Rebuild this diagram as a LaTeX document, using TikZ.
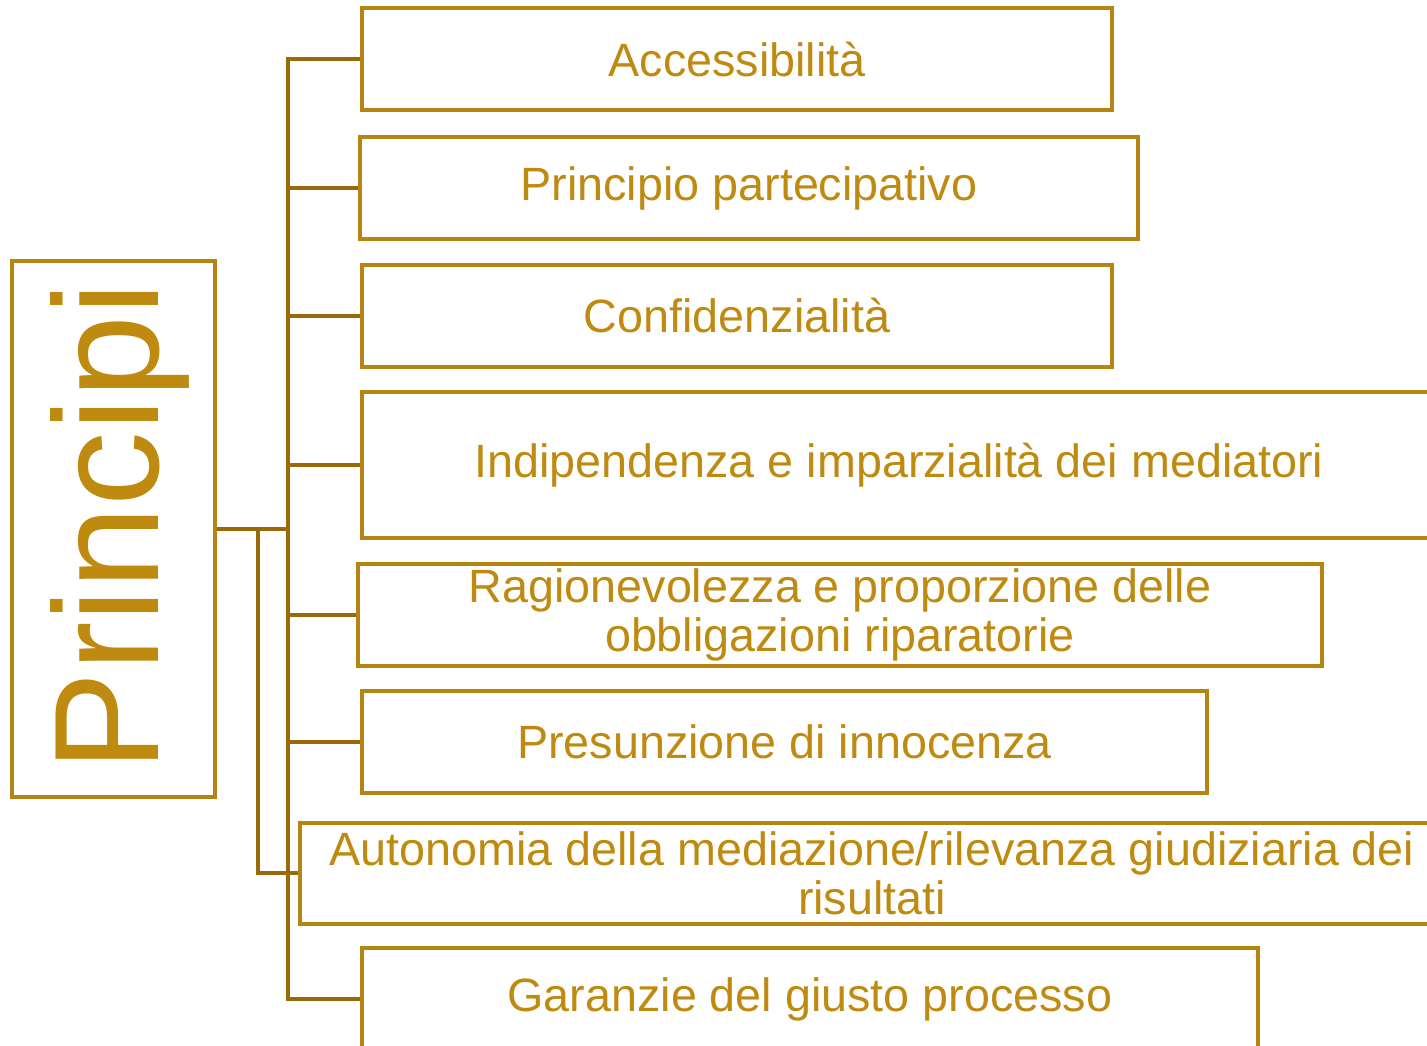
\documentclass[tikz,border=0pt]{standalone}
\usepackage{fontspec}
\setmainfont{Liberation Sans}
\usetikzlibrary{positioning}
\definecolor{ochre}{HTML}{B58412}
\definecolor{ochretext}{HTML}{BF8A10}
\definecolor{ochreline}{HTML}{9A6A08}

\begin{document}
\begin{tikzpicture}[x=1pt, y=-1pt,
    leafbox/.style={draw=ochre, line width=4pt, rectangle, minimum height=102pt, text=ochretext, align=center, font=\fontsize{46.7}{49}\selectfont, inner sep=0pt},
    rootbox/.style={draw=ochre, line width=4pt, rectangle, minimum width=203pt, minimum height=536pt},
    conn/.style={draw=ochreline, line width=4pt}]
    \useasboundingbox (0,0) rectangle (1427,1046);

    \node [rootbox] (root) at (113.5,529) {};
    \node [rotate=90, text=ochretext, font=\fontsize{149}{149}\selectfont] (roottext) at (120,527) {Principi};

    \node [leafbox, minimum width=750pt] (access) at (737,59.5) {Accessibilità};
    \node [leafbox, minimum width=778pt] (partec) at (749,188) {Principio partecipativo};
    \node [leafbox, minimum width=750pt] (confid) at (737,315.5) {Confidenzialità};
    \node [leafbox, minimum width=1074pt, minimum height=146pt] (indip) at (899,465) {Indipendenza e imparzialità dei mediatori};
    \node [leafbox, minimum width=964pt] (ragion) at (840,615) {Ragionevolezza e proporzione delle\\obbligazioni riparatorie};
    \node [leafbox, minimum width=845pt] (presun) at (784.5,742) {Presunzione di innocenza};
    \node [leafbox, minimum width=1144pt, minimum height=101pt] (autonom) at (872,873) {Autonomia della mediazione/rilevanza giudiziaria dei\\risultati};
    \node [leafbox, minimum width=896pt] (garanz) at (810,999) {Garanzie del giusto processo};

    \coordinate (trunk) at (288,529);
    \coordinate (trunkb) at (258,529);
    \foreach \leaf in {access,partec,confid,indip,ragion,presun,garanz}
      \draw [conn] (root.east) -- (trunk) |- (\leaf.west);
    \draw [conn] (root.east) -- (trunkb) |- (autonom.west);
\end{tikzpicture}
\end{document}
